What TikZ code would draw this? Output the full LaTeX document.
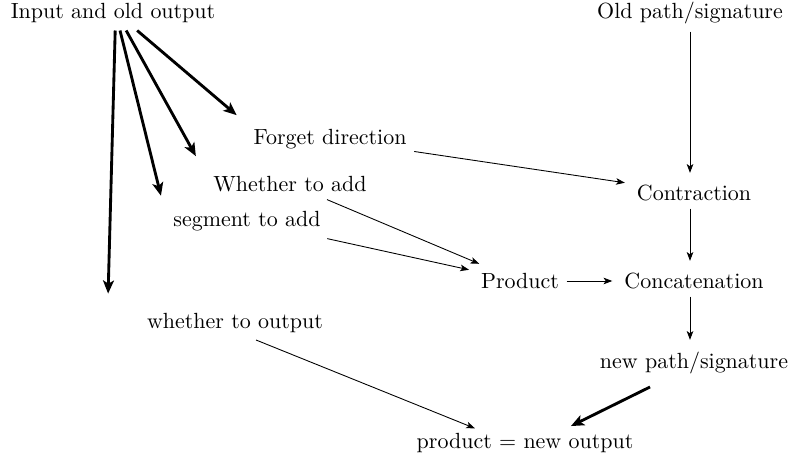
\documentclass[tikz,border=0pt]{standalone}
\usepackage{amsmath}
\usepackage{tikz}
\usetikzlibrary{arrows.meta}
\tikzset{link/.style = {-{Stealth[length = 4pt, width = 3pt, inset = 1pt]}, line width = 0.4pt, shorten > = 2pt}}
\tikzset{feed/.style = {link, line width = 1.3pt, -{Stealth[length = 6pt, width = 5pt, inset = 1.5pt]}}}

\begin{document}
\begin{tikzpicture}[x = 0.016cm, y = -0.016cm]

      \useasboundingbox (0, 0) rectangle (792, 467);

      \node (inp) at (113, 13) {Input and old output};
      \node (old) at (690, 13) {Old path/signature};
      \node (fgt) at (330, 139) {Forget direction};
      \node (wad) at (290, 184) {Whether to add};
      \node (seg) at (247, 221) {segment to add};
      \node (con) at (694, 193) {Contraction};
      \node (prd) at (520, 281) {Product};
      \node (cat) at (694, 281) {Concatenation};
      \node (wout) at (235, 323) {whether to output};
      \node (nps) at (694, 363) {new path/signature};
      \node (res) at (525, 443) {product $=$ new output};

      \coordinate (e1) at (108, 298);
      \coordinate (e2) at (162, 200);
      \coordinate (e3) at (198, 160);
      \coordinate (e4) at (240, 118);

      \draw [feed] ([xshift = 1pt] inp.south) -- (e1);
      \draw [feed] ([xshift = 3.2pt] inp.south) -- (e2);
      \draw [feed] ([xshift = 6pt] inp.south) -- (e3);
      \draw [feed] ([xshift = 11pt] inp.south) -- (e4);

      \draw [link] (old) -- (old |- con.north);
      \draw [link] (fgt) -- (con);
      \draw [link] (wad) -- (prd);
      \draw [link] (seg) -- (prd);
      \draw [link] (prd) -- (cat);
      \draw [link] (old |- con.south) -- (old |- cat.north);
      \draw [link] (old |- cat.south) -- (old |- nps.north);
      \draw [link] ([shift = {(21, 17)}] wout.center) -- ([shift = {(-46, -13)}] res.center);
      \draw [feed] ([shift = {(-44, 24)}] nps.center) -- ([shift = {(42, -15)}] res.center);

    \end{tikzpicture}
\end{document}
